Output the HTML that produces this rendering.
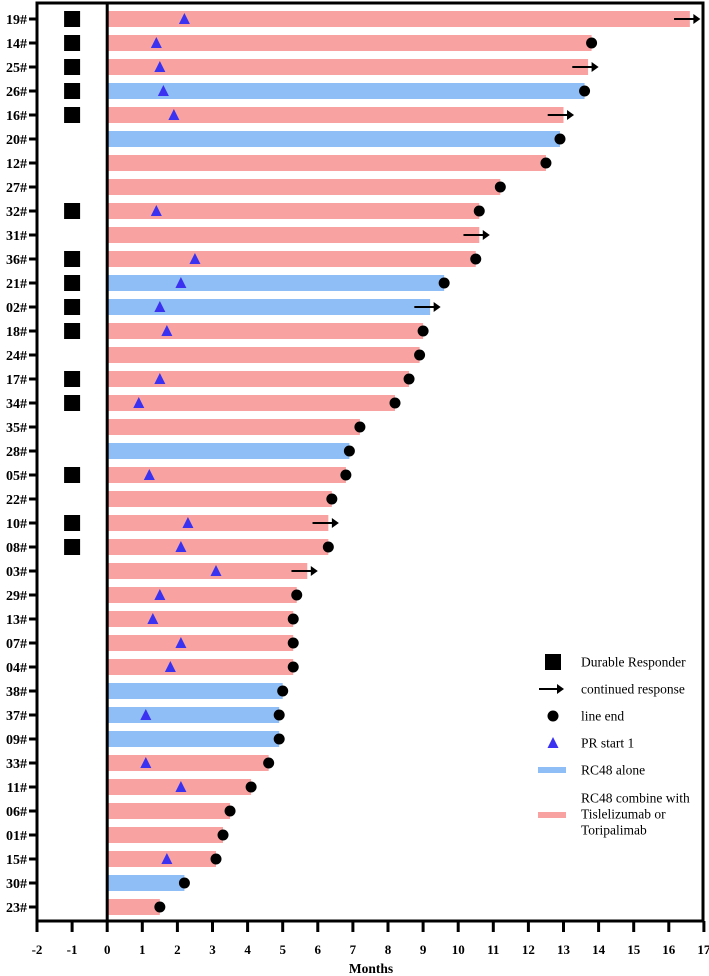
<!DOCTYPE html>
<html><head><meta charset="utf-8"><style>
html,body{margin:0;padding:0;background:#fff;}
svg{display:block;font-family:"Liberation Serif",serif;}
</style></head><body>
<svg id="chart" width="709" height="976" viewBox="0 0 709 976" xmlns="http://www.w3.org/2000/svg">
<g id="bars"></g>
<g id="marks"></g>
<g id="axes"></g>
<g id="legend"></g>
</svg>
<script>
const patients=["19#","14#","25#","26#","16#","20#","12#","27#","32#","31#","36#","21#","02#","18#","24#","17#","34#","35#","28#","05#","22#","10#","08#","03#","29#","13#","07#","04#","38#","37#","09#","33#","11#","06#","01#","15#","30#","23#"];
const durations=[16.6,13.8,13.7,13.6,13.0,12.9,12.5,11.2,10.6,10.6,10.5,9.6,9.2,9.0,8.9,8.6,8.2,7.2,6.9,6.8,6.4,6.3,6.3,5.7,5.4,5.3,5.3,5.3,5.0,4.9,4.9,4.6,4.1,3.5,3.3,3.1,2.2,1.5];
const treatment=["c","c","c","a","c","a","c","c","c","c","c","a","a","c","c","c","c","c","a","c","c","c","c","c","c","c","c","c","a","a","a","c","c","c","c","c","a","c"];
const prStart=[2.2,1.4,1.5,1.6,1.9,null,null,null,1.4,null,2.5,2.1,1.5,1.7,null,1.5,0.9,null,null,1.2,null,2.3,2.1,3.1,1.5,1.3,2.1,1.8,null,1.1,null,1.1,2.1,null,null,1.7,null,null];
const durable=[1,1,1,1,1,0,0,0,1,0,1,1,1,1,0,1,1,0,0,1,0,1,1,0,0,0,0,0,0,0,0,0,0,0,0,0,0,0];
const continued=[1,0,1,0,1,0,0,0,0,1,0,0,1,0,0,0,0,0,0,0,0,1,0,1,0,0,0,0,0,0,0,0,0,0,0,0,0,0];
const xTicks=[-2,-1,0,1,2,3,4,5,6,7,8,9,10,11,12,13,14,15,16,17];

const NS="http://www.w3.org/2000/svg";
const X0=107.2,UNIT=35.1;
const xs=v=>X0+v*UNIT;
const ys=i=>19+i*24;
const PINK="#f8a2a2",BLUE="#8fbdf5",TRI="#3a32f0";
function mk(tag,attrs,parent){const e=document.createElementNS(NS,tag);for(const k in attrs)e.setAttribute(k,attrs[k]);parent.appendChild(e);return e;}
const gb=document.getElementById('bars'),gm=document.getElementById('marks'),ga=document.getElementById('axes'),gl=document.getElementById('legend');

patients.forEach((p,i)=>{
  const y=ys(i);
  const b=mk('rect',{x:xs(0)+1,y:y-8,width:xs(durations[i])-xs(0)-1,height:16,fill:treatment[i]==="a"?BLUE:PINK},gb);
  
  
  if(durable[i]){
    const s=mk('rect',{x:xs(-1)-8,y:y-8,width:16,height:16,fill:"#000"},gm);
    
    
  }
  if(prStart[i]!==null){
    const tx=xs(prStart[i]);
    const t=mk('polygon',{points:`${tx-5.5},${y+5} ${tx+5.5},${y+5} ${tx},${y-6}`,fill:TRI},gm);
    
    
  }
  if(continued[i]){
    const x1=xs(durations[i]-0.45),x2=xs(durations[i]+0.3);
    const g=mk('g',{},gm);
    
    
    mk('line',{x1:x1,y1:y,x2:x2-2,y2:y,stroke:"#000","stroke-width":2},g);
    mk('polygon',{points:`${x2},${y} ${x2-7},${y-5} ${x2-7},${y+5}`,fill:"#000"},g);
  } else {
    const c=mk('circle',{cx:xs(durations[i]),cy:y,r:5.5,fill:"#000"},gm);
    
    
  }
  const lab=mk('text',{x:27,y:y+5,"text-anchor":"end","font-size":14,"font-weight":"bold",fill:"#000"},ga);
  lab.textContent=p;
  
  
  mk('line',{x1:29,y1:y,x2:37,y2:y,stroke:"#000","stroke-width":3},ga);
});

const fr=mk('rect',{x:37,y:3,width:666,height:918,fill:"none",stroke:"#000","stroke-width":3},ga);


const zl=mk('line',{x1:xs(0),y1:3,x2:xs(0),y2:921,stroke:"#000","stroke-width":3},ga);


xTicks.forEach(v=>{
  const x=xs(v);
  mk('line',{x1:x,y1:921,x2:x,y2:932,stroke:"#000","stroke-width":3},ga);
  const t=mk('text',{x:x,y:954,"text-anchor":"middle","font-size":13,"font-weight":"bold",fill:"#000"},ga);
  t.textContent=v;
  
  
});
const xt=mk('text',{x:371,y:973,"text-anchor":"middle","font-size":13.5,"font-weight":"bold",fill:"#000"},ga);
xt.textContent="Months";



const LX=581,IX=553;
function ltxt(y,s){const t=mk('text',{x:LX,y:y+4.5,"font-size":13.5,fill:"#000"},gl);t.textContent=s;return t;}
mk('rect',{x:IX-8,y:654,width:16,height:16,fill:"#000"},gl);ltxt(662,"Durable Responder");
mk('line',{x1:539,y1:689,x2:560,y2:689,stroke:"#000","stroke-width":2},gl);
mk('polygon',{points:"564,689 557,684 557,694",fill:"#000"},gl);ltxt(689,"continued response");
mk('circle',{cx:IX,cy:716,r:5.5,fill:"#000"},gl);ltxt(716,"line end");
mk('polygon',{points:`${IX-5.5},748 ${IX+5.5},748 ${IX},737`,fill:TRI},gl);ltxt(743,"PR start 1");
mk('rect',{x:538,y:767,width:28,height:6,fill:BLUE},gl);ltxt(770,"RC48 alone");
mk('rect',{x:538,y:812,width:28,height:6,fill:PINK},gl);
ltxt(798,"RC48 combine with");ltxt(814,"Tislelizumab or");ltxt(830,"Toripalimab");
</script>
</body></html>
